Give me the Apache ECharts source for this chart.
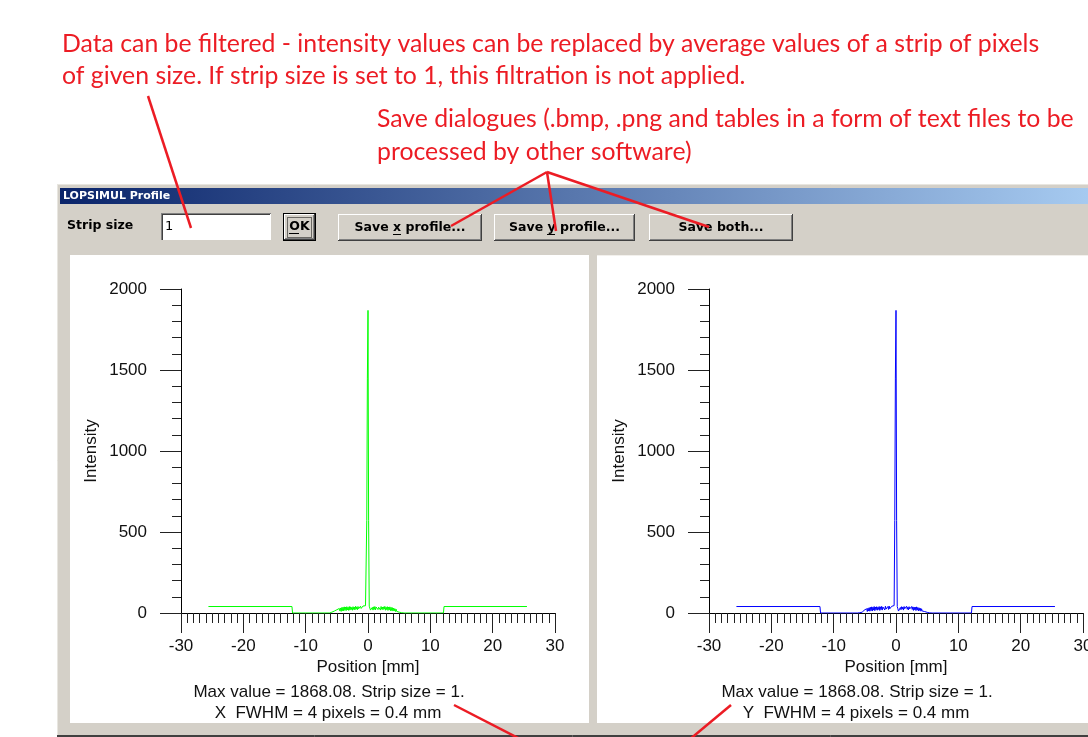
<!DOCTYPE html>
<html>
<head>
<meta charset="utf-8">
<title>LOPSIMUL Profile</title>
<script src="https://cdn.jsdelivr.net/npm/echarts@6/dist/echarts.min.js"></script>
<style>
  html, body { margin: 0; padding: 0; background: #fff; }
  #main { width: 1088px; height: 737px; }
</style>
</head>
<body>
<div id="main"></div>
<script>
// sample positions along the profile [mm]
const positions = [
  -25.6, -12.2, -12.1, -6.2,
  -6.1, -6.0, -5.9, -5.8, -5.7, -5.6, -5.5, -5.4, -5.3, -5.2,
  -5.1, -5.0, -4.9, -4.8, -4.7, -4.6, -4.5, -4.4, -4.3, -4.2,
  -4.1, -4.0, -3.9, -3.8, -3.7, -3.6, -3.5, -3.4, -3.3, -3.2,
  -3.1, -3.0, -2.9, -2.8, -2.7, -2.6, -2.5, -2.4, -2.3, -2.2,
  -2.1, -2.0, -1.9, -1.8, -1.7, -1.6, -1.5, -1.4, -1.3, -1.2,
  -1.1, -1.0, -0.9, -0.8, -0.7, -0.6, -0.5, -0.4, -0.3, -0.2,
  -0.1, 0.0, 0.1, 0.2, 0.3, 0.4, 0.5, 0.6, 0.7, 0.8,
  0.9, 1.0, 1.1, 1.2, 1.3, 1.4, 1.5, 1.6, 1.7, 1.8,
  1.9, 2.0, 2.1, 2.2, 2.3, 2.4, 2.5, 2.6, 2.7, 2.8,
  2.9, 3.0, 3.1, 3.2, 3.3, 3.4, 3.5, 3.6, 3.7, 3.8,
  3.9, 4.0, 4.1, 4.2, 4.3, 4.4, 4.5, 4.6, 4.7, 4.8,
  4.9, 5.0, 5.1, 5.2, 5.3, 5.4, 5.5, 5.6, 5.7, 5.8,
  5.9, 6.0,
  6.1, 12.1, 12.2, 25.5
]

// x profile (green)
const intensityX = [
  40, 40, 0, 0,
  0, 2, 1, 5, 2, 8, 3, 12, 5, 16,
  6, 20, 9, 24, 8, 28, 12, 31, 10, 34,
  14, 36, 13, 38, 17, 37, 15, 39, 19, 36,
  16, 40, 18, 38, 21, 35, 17, 39, 22, 37,
  19, 41, 24, 38, 20, 40, 26, 37, 23, 42,
  28, 39, 25, 43, 31, 40, 36, 45, 48, 570,
  1450, 1868, 570, 42, 30, 18, 6, 14, 35, 18,
  38, 22, 40, 19, 37, 25, 41, 21, 36, 27,
  39, 18, 40, 23, 37, 20, 38, 24, 41, 17,
  36, 21, 39, 16, 37, 19, 38, 14, 35, 15,
  33, 12, 30, 13, 27, 9, 24, 10, 20, 6,
  16, 5, 12, 3, 9, 2, 6, 1, 3, 0,
  1, 0,
  0, 0, 40, 40
]

// y profile (blue)
const intensityY = [
  40, 40, 0, 0,
  0, 1, 3, 2, 6, 4, 10, 5, 14, 7,
  18, 8, 22, 11, 26, 9, 30, 13, 33, 11,
  35, 15, 38, 12, 36, 18, 40, 14, 37, 20,
  39, 17, 36, 22, 40, 16, 38, 21, 41, 18,
  37, 25, 39, 19, 42, 24, 36, 27, 40, 22,
  43, 26, 38, 30, 41, 34, 44, 38, 46, 570,
  1450, 1868, 570, 40, 26, 12, 4, 16, 34, 20,
  39, 24, 37, 18, 40, 26, 38, 20, 42, 23,
  36, 19, 39, 25, 37, 17, 40, 22, 38, 16,
  37, 20, 36, 15, 38, 18, 34, 13, 32, 16,
  29, 11, 26, 12, 22, 8, 19, 9, 15, 5,
  12, 4, 9, 2, 6, 1, 4, 0, 2, 0,
  1, 0,
  0, 0, 40, 40
]

const noteFilter = [
  'Data can be filtered - intensity values can be replaced by average values of a strip of pixels',
  'of given size. If strip size is set to 1, this filtration is not applied.'
]
const noteSave = [
  'Save dialogues (.bmp, .png and tables in a form of text files to be',
  'processed by other software)'
]
const infoX = ['Max value = 1868.08. Strip size = 1.', 'X  FWHM = 4 pixels = 0.4 mm']
const infoY = ['Max value = 1868.08. Strip size = 1.', 'Y  FWHM = 4 pixels = 0.4 mm']

const FACE = '#d4d0c8'
const RED = '#ec1c24'
const PLOT_FONT = 'Liberation Sans, Arial, sans-serif'
const UI_FONT = 'DejaVu Sans, Tahoma, sans-serif'
const NOTE_FONT = '24.8px Lato, sans-serif'

function ln (x1, y1, x2, y2, color, w, z) {
  return { type: 'line', silent: true, z: z || -1,
    shape: { x1: x1, y1: y1, x2: x2, y2: y2 },
    style: { stroke: color, lineWidth: w || 1 } }
}
function box (x, y, w, h, fill, z) {
  return { type: 'rect', silent: true, z: z || -1,
    shape: { x: x, y: y, width: w, height: h }, style: { fill: fill } }
}
function txt (x, y, text, font, fill, align, z) {
  return { type: 'text', silent: true, z: z || -1, x: x, y: y,
    style: { text: text, font: font, fill: fill,
      textAlign: align || 'left', textVerticalAlign: 'middle',
      align: align || 'left', verticalAlign: 'middle' } }
}
// classic raised button
function button (x, y, w, h, label) {
  return [
    box(x, y, w, h, FACE),
    ln(x, y + 0.5, x + w - 1, y + 0.5, '#fff'),
    ln(x + 0.5, y, x + 0.5, y + h - 1, '#fff'),
    ln(x, y + h - 0.5, x + w, y + h - 0.5, '#404040'),
    ln(x + w - 0.5, y, x + w - 0.5, y + h, '#404040'),
    ln(x + 1, y + h - 1.5, x + w - 1, y + h - 1.5, '#808080'),
    ln(x + w - 1.5, y + 1, x + w - 1.5, y + h - 1, '#808080'),
    txt(x + w / 2, y + h / 2, label, 'bold 12.5px ' + UI_FONT, '#000', 'center')
  ]
}

let chrome = [
  // window frame and title bar
  box(57, 184, 1031, 553, FACE),
  ln(57.5, 184, 57.5, 737, '#e8e6e0'),
  ln(57, 184.5, 1088, 184.5, '#e8e6e0'),
  { type: 'rect', silent: true, z: -1, shape: { x: 60, y: 188, width: 1028, height: 16 },
    style: { fill: { type: 'linear', x: 0, y: 0, x2: 1, y2: 0,
      colorStops: [{ offset: 0, color: '#0a246a' }, { offset: 1, color: '#a6caf0' }] } } },
  txt(63, 196.5, 'LOPSIMUL Profile', 'bold 11px ' + UI_FONT, '#fff'),
  txt(67, 226, 'Strip size', 'bold 12.5px ' + UI_FONT, '#000'),
  // strip size edit box
  box(161, 213, 110, 28, '#fff'),
  ln(161, 213.5, 271, 213.5, '#808080'),
  ln(161.5, 213, 161.5, 241, '#808080'),
  ln(162, 214.5, 270, 214.5, '#404040'),
  ln(162.5, 214, 162.5, 240, '#404040'),
  ln(161, 240.5, 271, 240.5, FACE),
  txt(165, 227, '1', '13px ' + UI_FONT, '#000'),
  // plot panels
  box(70, 255, 519, 468, '#fff'),
  box(597, 255, 491, 468, '#fff'),
  ln(597, 255.5, 1088, 255.5, '#f2f0ec'),
  ln(57, 735.5, 1088, 735.5, '#404040'),
  ln(57, 736.5, 1088, 736.5, '#404040')
]
chrome = chrome.concat(
  [box(283, 213, 33, 28, '#000')],
  button(284, 214, 31, 26, 'OK'),
  [{ type: 'rect', silent: true, z: -1, shape: { x: 287.5, y: 217.5, width: 24, height: 20 },
    style: { fill: null, stroke: '#000', lineWidth: 1, lineDash: [1, 1] } },
  ln(289, 233.5, 299, 233.5, '#000')],
  button(338, 214, 144, 27, 'Save x profile...'),
  [ln(393, 234.5, 401, 234.5, '#000')],
  button(494, 214, 141, 27, 'Save y profile...'),
  [ln(547, 234.5, 555, 234.5, '#000')],
  button(649, 214, 144, 27, 'Save both...')
)

// panel captions under each plot
const captions = [
  txt(329, 692, infoX[0], '17px ' + PLOT_FONT, '#111', 'center'),
  txt(328, 713, infoX[1], '17px ' + PLOT_FONT, '#111', 'center'),
  txt(857, 692, infoY[0], '17px ' + PLOT_FONT, '#111', 'center'),
  txt(856, 713, infoY[1], '17px ' + PLOT_FONT, '#111', 'center')
]

// red annotations
const notes = [
  txt(62, 44, noteFilter[0], NOTE_FONT, RED, 'left', 20),
  txt(62, 76, noteFilter[1], NOTE_FONT, RED, 'left', 20),
  txt(377, 119, noteSave[0], NOTE_FONT, RED, 'left', 20),
  txt(377, 152, noteSave[1], NOTE_FONT, RED, 'left', 20),
  ln(148, 96, 191, 228, RED, 2.5, 20),
  ln(547, 172, 451, 226, RED, 2.5, 20),
  ln(547, 172, 556, 231, RED, 2.5, 20),
  ln(547, 172, 709, 227, RED, 2.5, 20),
  ln(454, 705, 522, 740, RED, 2.5, 20),
  ln(731, 705, 689, 740, RED, 2.5, 20)
]

function plain (v) { return String(v) }

function xAxisFor (grid) {
  return {
    gridIndex: grid, type: 'value', min: -30, max: 30, interval: 10,
    name: 'Position [mm]', nameLocation: 'middle', nameGap: 46,
    nameTextStyle: { color: '#111', fontSize: 17, fontFamily: PLOT_FONT },
    axisLine: { show: true, onZero: false, lineStyle: { color: '#000', width: 1 } },
    axisTick: { show: true, length: 20, lineStyle: { color: '#222' } },
    minorTick: { show: true, splitNumber: 10, length: 10, lineStyle: { color: '#222' } },
    splitLine: { show: false },
    axisLabel: { margin: 25, color: '#111', fontSize: 17, fontFamily: PLOT_FONT, formatter: plain }
  }
}
function yAxisFor (grid) {
  return {
    gridIndex: grid, type: 'value', min: 0, max: 2000, interval: 500,
    name: 'Intensity', nameLocation: 'middle', nameGap: 81,
    nameTextStyle: { color: '#111', fontSize: 17, fontFamily: PLOT_FONT },
    axisLine: { show: true, onZero: false, lineStyle: { color: '#000', width: 1 } },
    axisTick: { show: true, length: 21, lineStyle: { color: '#222' } },
    minorTick: { show: true, splitNumber: 5, length: 9, lineStyle: { color: '#222' } },
    splitLine: { show: false },
    axisLabel: { margin: 34, color: '#111', fontSize: 17, fontFamily: PLOT_FONT, formatter: plain }
  }
}

const chart = echarts.init(document.getElementById('main'))
chart.setOption({
  animation: false,
  grid: [
    { left: 181, top: 289, width: 374, height: 324, outerBoundsMode: 'none' },
    { left: 709, top: 289, width: 374, height: 324, outerBoundsMode: 'none' }
  ],
  xAxis: [xAxisFor(0), xAxisFor(1)],
  yAxis: [yAxisFor(0), yAxisFor(1)],
  series: [
    {
      name: 'X profile', type: 'line', xAxisIndex: 0, yAxisIndex: 0,
      showSymbol: false, symbol: 'none',
      lineStyle: { color: '#00ff00', width: 1 },
      data: positions.map((p, i) => [p, intensityX[i]])
    },
    {
      name: 'Y profile', type: 'line', xAxisIndex: 1, yAxisIndex: 1,
      showSymbol: false, symbol: 'none',
      lineStyle: { color: '#0000ff', width: 1 },
      data: positions.map((p, i) => [p, intensityY[i]])
    }
  ],
  graphic: { elements: chrome.concat(captions, notes) }
})
</script>
</body>
</html>
